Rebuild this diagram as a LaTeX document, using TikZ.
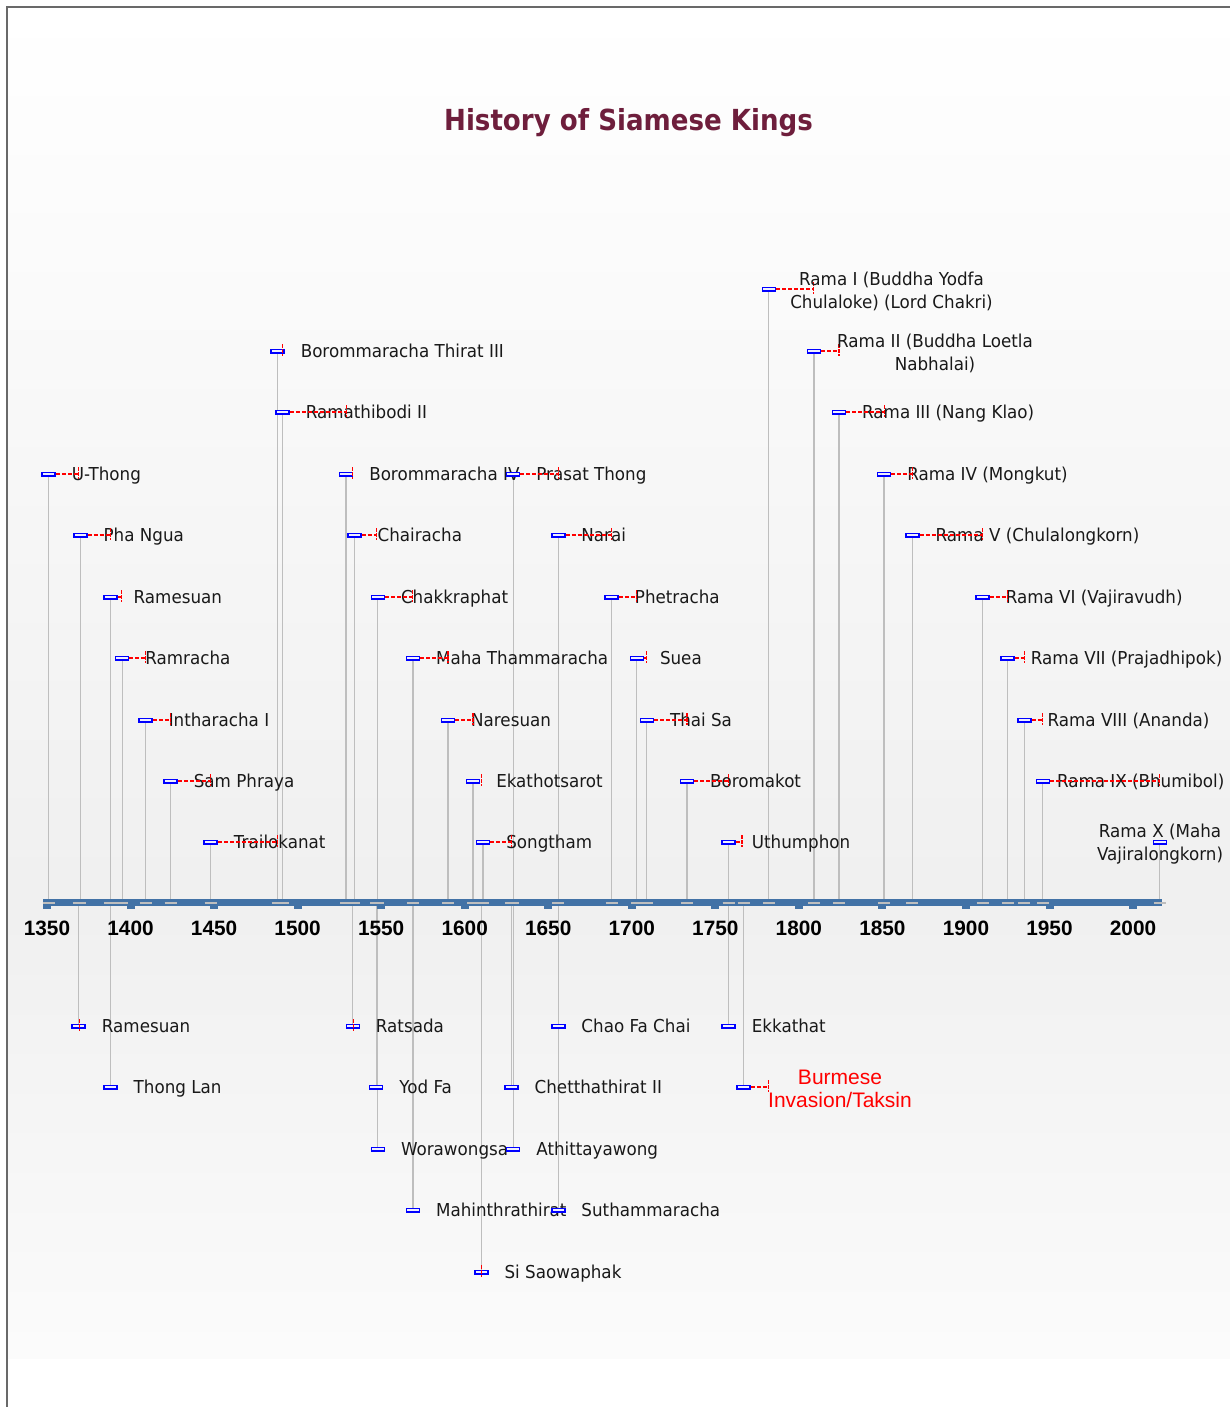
\documentclass[tikz,border=0pt]{standalone}
\usepackage{fontspec}
\setmainfont{DejaVu Sans}[FakeStretch=0.94]
\newfontfamily\titlefont{DejaVu Sans}[FakeStretch=0.9]
\newfontfamily\arialfont{Liberation Sans}
\definecolor{axisblue}{RGB}{66,114,166}
\definecolor{stemgray}{RGB}{190,190,190}
\definecolor{framegray}{RGB}{105,105,105}
\definecolor{titlered}{RGB}{110,30,60}
\definecolor{markfill}{RGB}{240,240,255}
\pgfdeclarelayer{bgl}
\pgfdeclarelayer{stems}
\pgfsetlayers{bgl,stems,main}
\tikzset{
  mk/.style={rectangle, draw=blue, line width=1.5pt, fill=markfill, minimum width=13pt, minimum height=3.5pt, inner sep=0pt},
  stemline/.style={draw=stemgray, line width=1.2pt},
  axtick/.style={draw=stemgray, line width=1.3pt},
  reign/.style={draw=red, line width=1.15pt, dash pattern=on 4pt off 2pt},
  reigntk/.style={draw=red, line width=1.15pt, dash pattern=on 4pt off 1pt},
  lbl/.style={anchor=base west, inner sep=0pt, font=\fontsize{17.8}{22}\selectfont, text=black!90},
  lbltwo/.style={align=center, inner sep=0pt, font=\fontsize{17.8}{23}\selectfont, text=black!90},
  burm/.style={align=center, inner sep=0pt, font=\arialfont\fontsize{21}{23.5}\selectfont, text=red},
  yearlbl/.style={anchor=base, inner sep=0pt, font=\arialfont\bfseries\fontsize{20.8}{24}\selectfont, text=black},
}
% #1 label x offset, #2 id, #3 start year, #4 row y, #5 label
\newcommand\kingmark[5][23]{%
  \coordinate (#2-a) at ({47+(#3-1350)*1.6708},903);
  \node[mk] (#2) at ({47+(#3-1350)*1.6708},#4) {};
  \begin{pgfonlayer}{stems}\draw[stemline] (#2-a) -- (#2.center);\end{pgfonlayer}
  \draw[axtick] ([xshift=-6pt]#2-a) -- ([xshift=6pt]#2-a);
  \node[lbl] (#2-l) at ([xshift=#1pt,yshift=-6.5pt]#2.center) {#5};
}
% id, end year, row y : dashed reign line and end tick
\newcommand\reignto[3]{%
  \coordinate (#1-e) at ({47+(#2-1350)*1.6708},#3);
  \draw[reign] (#1.east) -- (#1-e);
  \draw[reigntk] ([yshift=7pt]#1-e) -- ([yshift=-5pt]#1-e);
}
% id, end year, row y : end tick only
\newcommand\reignend[3]{%
  \coordinate (#1-e) at ({47+(#2-1350)*1.6708},#3);
  \draw[reigntk] ([yshift=7pt]#1-e) -- ([yshift=-5pt]#1-e);
}
\begin{document}
\begin{tikzpicture}[x=1pt,y=-1pt]
\useasboundingbox (0,0) rectangle (1230,1407);
\begin{pgfonlayer}{bgl}
\fill[white] (0,0) rectangle (1230,1407);
\shade[top color=white, bottom color=black!6] (8,8) rectangle (1230,903);
\shade[top color=black!6, bottom color=black!1.5] (8,903) rectangle (1230,1358);
\draw[framegray, line width=2pt] (7,1407) -- (7,7) -- (1230,7);
\end{pgfonlayer}

\node[font=\titlefont\bfseries\fontsize{29}{34}\selectfont, text=titlered, anchor=base, inner sep=0pt] (title) at (628.5,131) {History of Siamese Kings};

% axis
\fill[axisblue] (43,899) rectangle (1162,906);
\foreach \yy in {1350,1400,...,2000}{
  \fill[axisblue] ({47+(\yy-1350)*1.6708-4},905) rectangle ++(8,4);
  \node[yearlbl] (y\yy) at ({47+(\yy-1350)*1.6708},935.7) {\yy};
}

% above the axis
\kingmark{u1}{1351}{474}{U-Thong}\reignto{u1}{1369}{474}
\kingmark{u2}{1370}{535}{Pha Ngua}\reignto{u2}{1388}{535}
\kingmark{u3}{1388}{597}{Ramesuan}\reignto{u3}{1394.5}{597}
\kingmark{u4}{1395}{658}{Ramracha}\reignto{u4}{1409}{658}
\kingmark{u5}{1409}{720}{Intharacha I}\reignto{u5}{1424}{720}
\kingmark{u6}{1424}{781}{Sam Phraya}\reignto{u6}{1448}{781}
\kingmark{u7}{1448}{842}{Trailokanat}\reignto{u7}{1488}{842}
\kingmark{u8}{1488}{351}{Borommaracha Thirat III}\reignend{u8}{1491}{351}
\kingmark{u9}{1491}{412}{Ramathibodi II}\reignto{u9}{1529}{412}
\kingmark{u10}{1529}{474}{Borommaracha IV}\reignend{u10}{1533}{474}
\kingmark{u11}{1534}{535}{Chairacha}\reignto{u11}{1547}{535}
\kingmark{u12}{1548}{597}{Chakkraphat}\reignto{u12}{1569}{597}
\kingmark{u13}{1569}{658}{Maha Thammaracha}\reignto{u13}{1590}{658}
\kingmark{u14}{1590}{720}{Naresuan}\reignto{u14}{1605}{720}
\kingmark{u15}{1605}{781}{Ekathotsarot}\reignend{u15}{1610}{781}
\kingmark{u16}{1611}{842}{Songtham}\reignto{u16}{1628}{842}
\kingmark{u17}{1629}{474}{Prasat Thong}\reignto{u17}{1656}{474}
\kingmark{u18}{1656}{535}{Narai}\reignto{u18}{1688}{535}
\kingmark{u19}{1688}{597}{Phetracha}\reignto{u19}{1703}{597}
\kingmark{u20}{1703}{658}{Suea}\reignto{u20}{1709}{658}
\kingmark{u21}{1709}{720}{Thai Sa}\reignto{u21}{1733}{720}
\kingmark{u22}{1733}{781}{Boromakot}\reignto{u22}{1758}{781}
\kingmark{u23}{1758}{842}{Uthumphon}\reignto{u23}{1766}{842}
\kingmark{u24}{1782}{289}{}\reignto{u24}{1809}{289}
\kingmark{u25}{1809}{351}{}\reignto{u25}{1824}{351}
\kingmark{u26}{1824}{412}{Rama III (Nang Klao)}\reignto{u26}{1851}{412}
\kingmark{u27}{1851}{474}{Rama IV (Mongkut)}\reignto{u27}{1868}{474}
\kingmark{u28}{1868}{535}{Rama V (Chulalongkorn)}\reignto{u28}{1910}{535}
\kingmark{u29}{1910}{597}{Rama VI (Vajiravudh)}\reignto{u29}{1925}{597}
\kingmark{u30}{1925}{658}{Rama VII (Prajadhipok)}\reignto{u30}{1935}{658}
\kingmark{u31}{1935}{720}{Rama VIII (Ananda)}\reignto{u31}{1946}{720}
\kingmark[14]{u32}{1946}{781}{Rama IX (Bhumibol)}\reignto{u32}{2016}{781}
\kingmark{u33}{2016}{842}{}

\node[lbltwo] (u24-t) at (891.5,291.5) {Rama I (Buddha Yodfa\\Chulaloke) (Lord Chakri)};
\node[lbltwo] (u25-t) at (935,353) {Rama II (Buddha Loetla\\Nabhalai)};
\node[lbltwo] (u33-t) at (1160,844) {Rama X (Maha\\Vajiralongkorn)};

% below the axis
\kingmark{d1}{1369}{1026}{Ramesuan}\reignend{d1}{1369.2}{1026}
\kingmark{d2}{1388}{1087}{Thong Lan}
\kingmark{d3}{1533}{1026}{Ratsada}\reignend{d3}{1533.2}{1026}
\kingmark{d4}{1547}{1087}{Yod Fa}
\kingmark{d5}{1548}{1149}{Worawongsa}
\kingmark{d6}{1569}{1210}{Mahinthrathirat}
\kingmark{d7}{1610}{1272}{Si Saowaphak}\reignend{d7}{1610}{1272}
\kingmark{d8}{1628}{1087}{Chetthathirat II}
\kingmark{d9}{1629}{1149}{Athittayawong}
\kingmark{d10}{1656}{1026}{Chao Fa Chai}
\kingmark{d11}{1656}{1210}{Suthammaracha}
\kingmark{d12}{1758}{1026}{Ekkathat}
\kingmark{d13}{1767}{1087}{}\reignto{d13}{1782}{1087}
\node[burm] (d13-t) at (840,1089) {Burmese\\Invasion/Taksin};
\end{tikzpicture}
\end{document}
